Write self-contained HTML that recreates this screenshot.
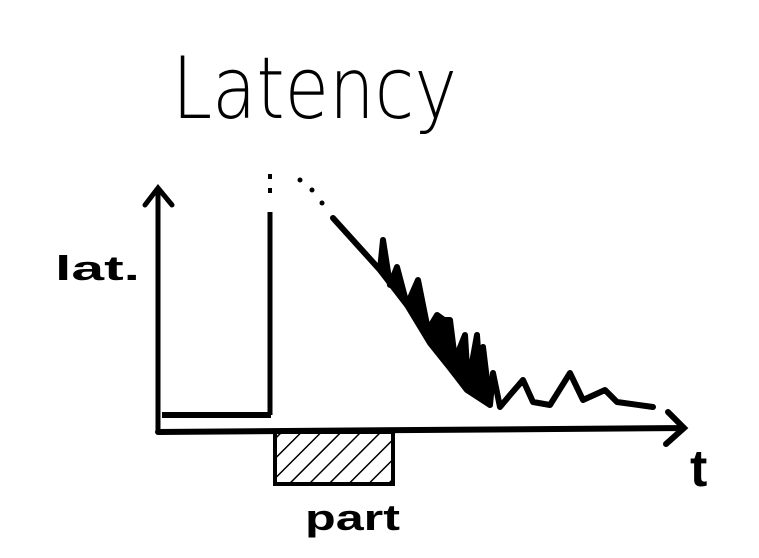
<!DOCTYPE html>
<html><head><meta charset="utf-8"><style>
html,body{margin:0;padding:0;background:#fff;}
svg{display:block;}
text{font-family:"Liberation Sans",sans-serif;fill:#000;}
</style></head><body>
<svg id="chart" width="759" height="558" viewBox="0 0 759 558">
<defs><pattern id="hatch" width="14" height="14" patternUnits="userSpaceOnUse" patternTransform="rotate(45)"><line x1="0" y1="0" x2="0" y2="14" stroke="#000" stroke-width="3"/></pattern></defs>
<text x="172" y="118" font-size="86" style="font-family:'DejaVu Sans',sans-serif;font-weight:300" textLength="285" lengthAdjust="spacingAndGlyphs">Latency</text>
<text x="55" y="280" font-size="34" font-weight="bold" textLength="85" lengthAdjust="spacingAndGlyphs">lat.</text>
<text x="690" y="486" font-size="52" font-weight="bold">t</text>
<text x="305" y="530" font-size="36" font-weight="bold" textLength="95" lengthAdjust="spacingAndGlyphs">part</text>
<g id="marks"></g>
</svg>
<script>
const traceT=[175,222,225,232,239,249,260,270,279,286,292,297,307,310,319,322,325,332,335,342,352,365,375,392,412,425,447,459,495];
const traceLat=[214,162,192,147,165,127,152,102,117,112,112,72,97,47,97,52,85,27,59,25,37,52,30,27,59,32,42,30,25];
const baseT=[222,249,272,292,309,332];
const baseLat=[162,127,89,64,42,27];
const preLat=17;
const partStart=117, partEnd=235;
const X0=158, Y0=432;
const sx=t=>X0+t, sy=v=>Y0-v;
const NS='http://www.w3.org/2000/svg';
const g=document.getElementById('marks');
function mk(tag,attrs){const e=document.createElementNS(NS,tag);for(const k in attrs)e.setAttribute(k,attrs[k]);g.appendChild(e);return e;}
let fillPts=[];
for(let i=1;i<traceT.length&&traceT[i]<=332;i++)fillPts.push(sx(traceT[i])+','+sy(traceLat[i]));
for(let i=baseT.length-1;i>=0;i--)fillPts.push(sx(baseT[i])+','+sy(baseLat[i]));
let f=mk('polygon',{points:fillPts.join(' '),fill:'#000',stroke:'#000','stroke-width':4,'stroke-linejoin':'round'});


let b=mk('polyline',{points:baseT.map((t,i)=>sx(t)+','+sy(baseLat[i])).join(' '),fill:'none',stroke:'#000','stroke-width':6,'stroke-linejoin':'round'});


let l=mk('polyline',{points:traceT.map((t,i)=>sx(t)+','+sy(traceLat[i])).join(' '),fill:'none',stroke:'#000','stroke-width':6,'stroke-linejoin':'round','stroke-linecap':'round'});


[[300,180],[312,190],[322,203]].forEach(p=>{let d=mk('circle',{cx:p[0],cy:p[1],r:2.5,fill:'#000'});

});
let pre=mk('line',{x1:sx(4),y1:sy(preLat),x2:sx(partStart-4),y2:sy(preLat),stroke:'#000','stroke-width':6});


let v=mk('line',{x1:sx(partStart-5),y1:sy(preLat),x2:sx(partStart-5),y2:212,stroke:'#000','stroke-width':5});


let vd=mk('line',{x1:sx(partStart-5),y1:174,x2:sx(partStart-5),y2:202,stroke:'#000','stroke-width':4,'stroke-dasharray':'5 9'});


let r=mk('rect',{x:sx(partStart),y:Y0,width:partEnd-partStart,height:52,fill:'url(#hatch)',stroke:'#000','stroke-width':4});


let ya=mk('path',{d:`M${X0},${Y0} L${X0},188 M145,205 L${X0},188 L172,205`,fill:'none',stroke:'#000','stroke-width':5,'stroke-linecap':'round'});


let xa=mk('path',{d:`M${X0},${Y0} L684,${Y0-4} M668,412 L684,${Y0-4} L666,444`,fill:'none',stroke:'#000','stroke-width':6,'stroke-linecap':'round'});


</script>
</body></html>
